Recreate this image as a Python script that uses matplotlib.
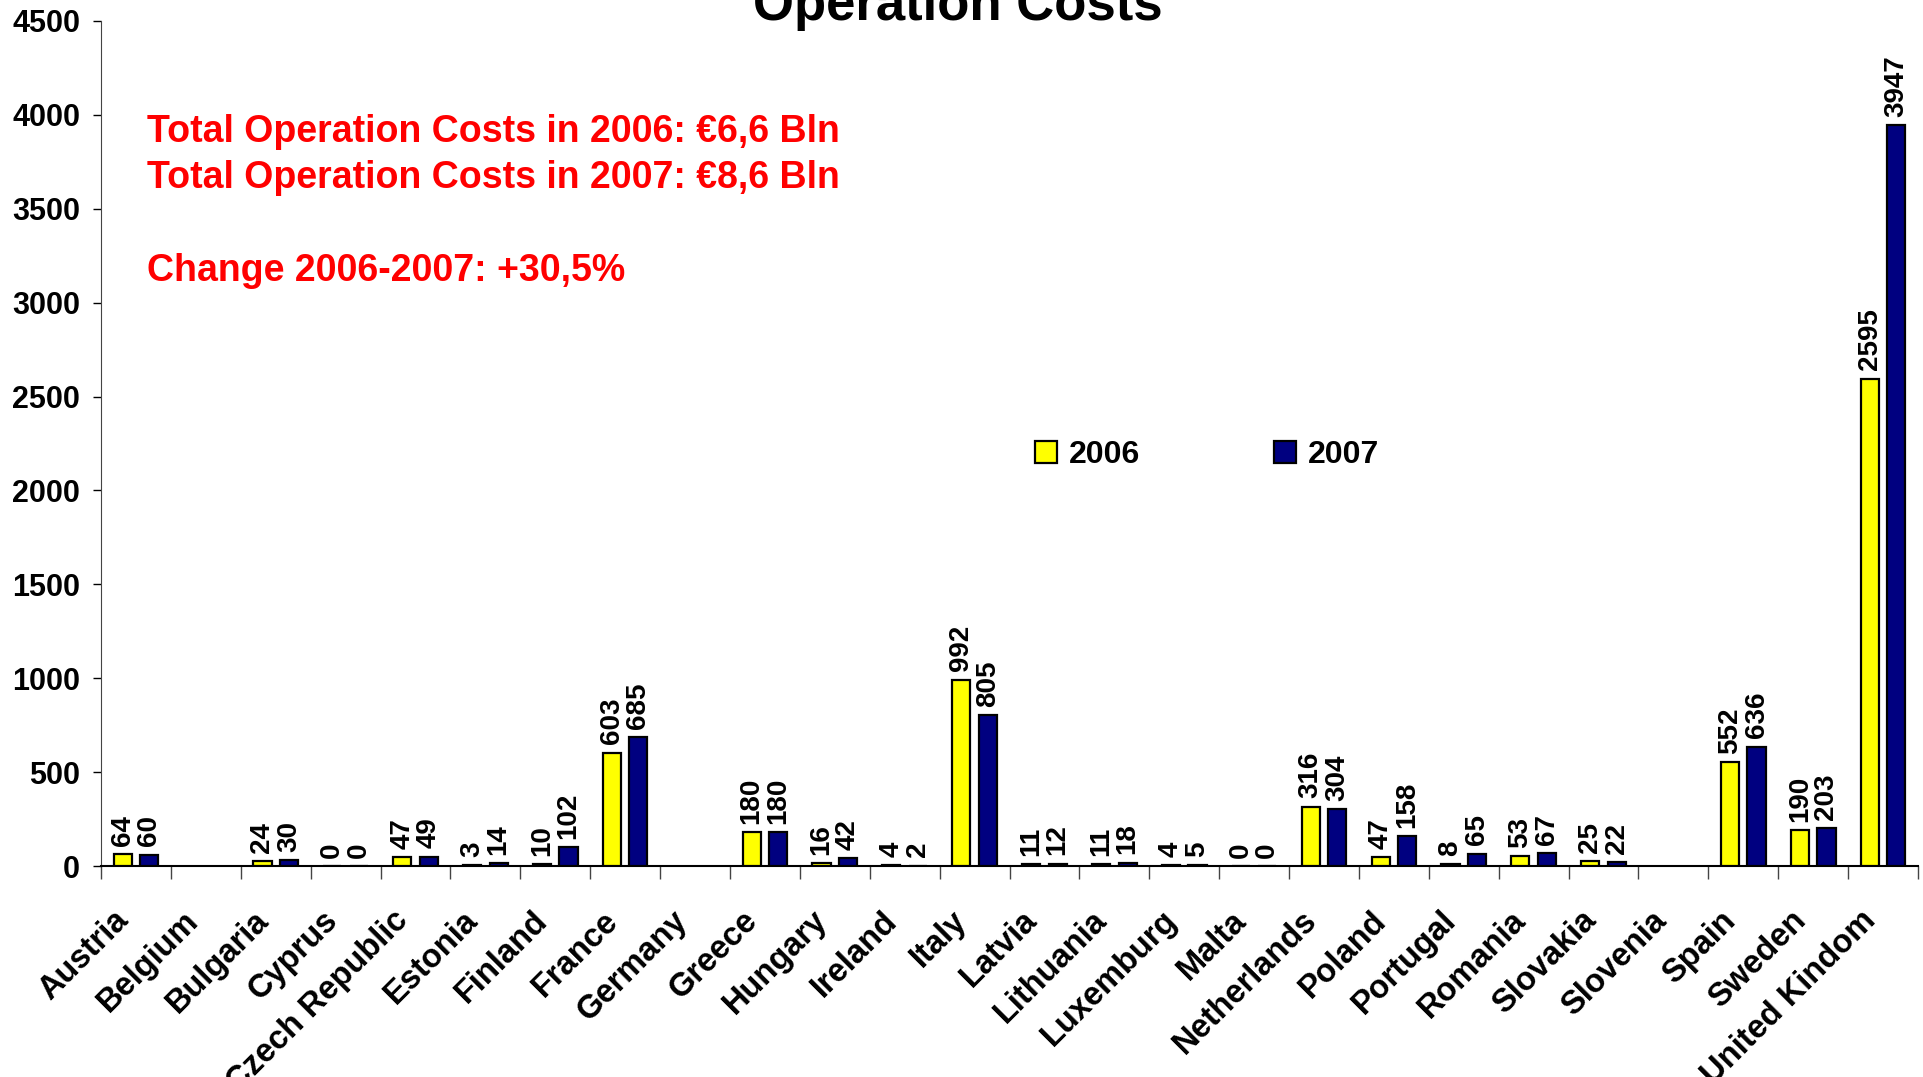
import matplotlib
matplotlib.use("Agg")
import matplotlib.pyplot as plt
import numpy as np
from matplotlib.patches import Patch

plt.rcParams['font.family'] = ['Liberation Sans', 'DejaVu Sans']
plt.rcParams['font.weight'] = 'bold'

countries = ["Austria", "Belgium", "Bulgaria", "Cyprus", "Czech Republic", "Estonia",
             "Finland", "France", "Germany", "Greece", "Hungary", "Ireland", "Italy",
             "Latvia", "Lithuania", "Luxemburg", "Malta", "Netherlands", "Poland",
             "Portugal", "Romania", "Slovakia", "Slovenia", "Spain", "Sweden",
             "United Kindom"]
costs_2006 = [64, None, 24, 0, 47, 3, 10, 603, None, 180, 16, 4, 992, 11, 11, 4, 0,
              316, 47, 8, 53, 25, None, 552, 190, 2595]
costs_2007 = [60, None, 30, 0, 49, 14, 102, 685, None, 180, 42, 2, 805, 12, 18, 5, 0,
              304, 158, 65, 67, 22, None, 636, 203, 3947]
series_labels = ["2006", "2007"]
y_ticks = [0, 500, 1000, 1500, 2000, 2500, 3000, 3500, 4000, 4500]
title = "Operation Costs"
notes = ["Total Operation Costs in 2006: €6,6 Bln",
         "Total Operation Costs in 2007: €8,6 Bln",
         "Change 2006-2007: +30,5%"]

W, H = 1923, 1077
fig = plt.figure(figsize=(W / 100, H / 100), dpi=100)
ax = fig.add_axes([101 / W, 1 - 866 / H, (1918 - 101) / W, (866 - 21) / H])

colors = ["#FFFF00", "#000080"]
offsets = [-0.19, 0.19]
bw = 0.26
for vals, col, off in zip([costs_2006, costs_2007], colors, offsets):
    idx = [i for i, v in enumerate(vals) if v is not None]
    hs = [vals[i] for i in idx]
    xs = np.array(idx) + off
    ax.bar(xs, hs, width=bw, color=col, edgecolor="black", linewidth=1.6, zorder=3)
    for x, h in zip(xs, hs):
        ax.annotate(str(h), (x, h), xytext=(0, 6), textcoords="offset points",
                    rotation=90, ha="center", va="bottom", fontsize=20,
                    fontweight="bold")

n = len(countries)
ax.set_xlim(-0.5, n - 0.5)
ax.set_ylim(0, 4500)
ax.set_yticks(y_ticks)
ax.set_yticklabels([str(t) for t in y_ticks], fontsize=22, fontweight="bold")
ax.tick_params(axis="y", length=6, width=1, pad=9)

ax.set_xticks(np.arange(n + 1) - 0.5)
ax.set_xticklabels([])
ax.tick_params(axis="x", which="major", length=9, width=1, color="#444444")
ax.set_xticks(np.arange(n) - 0.33, minor=True)
ax.set_xticklabels(countries, minor=True, rotation=45, ha="right",
                   rotation_mode="anchor", fontsize=23.5, fontweight="bold")
ax.tick_params(axis="x", which="minor", length=0, pad=28)

for s in ["top", "right"]:
    ax.spines[s].set_visible(False)
ax.spines["left"].set_color("#444444")
ax.spines["bottom"].set_color("black")
ax.spines["bottom"].set_linewidth(1.5)

fig.text(958 / W, 1 - 20 / H, title, ha="center", va="baseline",
         fontsize=38, fontweight="bold")

note_y = [132, 178, 271]
for t, yy in zip(notes, note_y):
    fig.text(147 / W, 1 - yy / H, t, ha="left", va="center", color="#FF0000",
             fontsize=27, fontweight="bold")

handles = [Patch(facecolor=c, edgecolor="black", linewidth=1.6) for c in colors]
leg = fig.legend(handles, series_labels, loc="center left",
                 bbox_to_anchor=(1019 / W, 1 - 455 / H), ncol=2, frameon=False,
                 fontsize=23, handlelength=0.7, handleheight=0.7,
                 handletextpad=0.35, columnspacing=4.2, borderpad=0)
for t in leg.get_texts():
    t.set_fontweight("bold")

fig.savefig("out.png", dpi=100)
